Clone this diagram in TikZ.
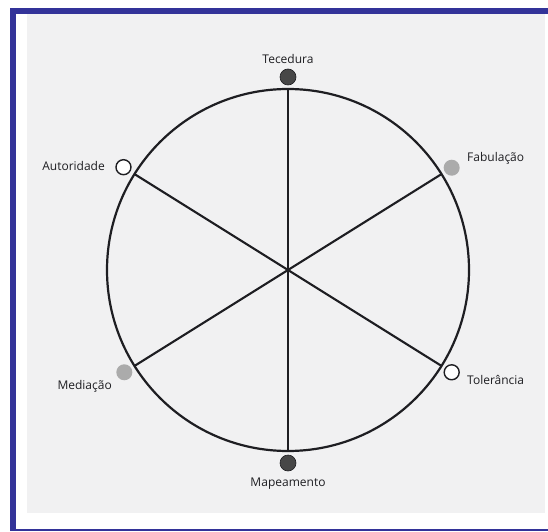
\documentclass[tikz,border=0pt]{standalone}
\usepackage{fontspec}
\setmainfont{Open Sans}
\usetikzlibrary{positioning}

\definecolor{framblue}{RGB}{51,51,153}
\definecolor{scangrey}{RGB}{241,241,242}
\definecolor{inkdark}{RGB}{30,30,34}

\begin{document}
\begin{tikzpicture}[x=1pt, y=1pt,
  rim/.style={draw=inkdark, line width=2.2pt},
  spoke/.style={draw=inkdark, line width=2.1pt},
  darkdot/.style={circle, fill=black!72, draw=inkdark, line width=0.6pt,
    minimum size=16pt, inner sep=0pt},
  greydot/.style={circle, fill=black!33, minimum size=16pt, inner sep=0pt},
  opendot/.style={circle, fill=white, draw=inkdark, line width=1.4pt,
    minimum size=15pt, inner sep=0pt},
  lbl/.style={font=\fontsize{12}{14}\selectfont, text=inkdark, inner sep=1pt}
]
  % page, scan and blue frame
  \useasboundingbox (0,0) rectangle (548,531);
  \fill[white] (0,0) rectangle (548,531);
  \fill[scangrey] (27,18) rectangle (545,517);
  \fill[framblue] (10,517) rectangle (548,523);
  \fill[framblue] (10,0) rectangle (16,523);
  \fill[framblue] (10,0) rectangle (548,2);

  % wheel
  \coordinate (c) at (288,261);
  \draw[rim] (c) circle (181);
  \foreach \nm/\ang in {tec/90, fab/32, aut/148, med/212, map/270, tol/328}
    \path (c) ++(\ang:181) coordinate (\nm-rim);
  \foreach \nm in {tec, fab, aut, med, map, tol}
    \draw[spoke] (c) -- (\nm-rim);

  \path (c) ++(90:193)  node[darkdot] (tec) {};
  \path (c) ++(270:193) node[darkdot] (map) {};
  \path (c) ++(32:193)  node[greydot] (fab) {};
  \path (c) ++(212:193) node[greydot] (med) {};
  \path (c) ++(148:194) node[opendot] (aut) {};
  \path (c) ++(328:193) node[opendot] (tol) {};

  % labels
  \node[lbl, above=4pt of tec] (tec-l) {Tecedura};
  \node[lbl, below=5pt of map] (map-l) {Mapeamento};
  \node[lbl, anchor=west] (fab-l) at (466,373) {Fabulação};
  \node[lbl, anchor=west] (tol-l) at (466,151) {Tolerância};
  \node[lbl, anchor=east] (aut-l) at (106,365) {Autoridade};
  \node[lbl, anchor=east] (med-l) at (113,145) {Mediação};
\end{tikzpicture}
\end{document}
